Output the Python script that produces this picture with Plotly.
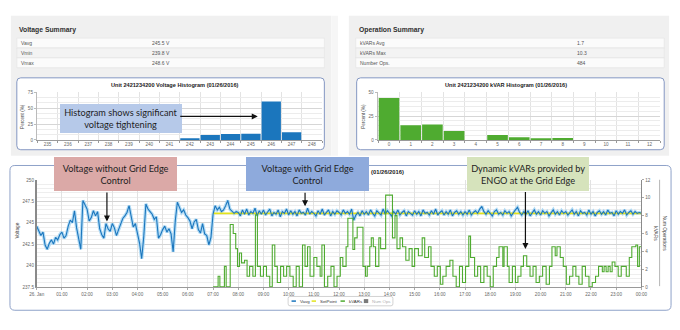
import pandas as pd
import plotly.graph_objects as go

W, H = 680, 330


def fx(x):
    return x / W


def fy(y):
    return 1 - y / H


# ---------------- summary tables ----------------
voltage_summary_labels = ["Vavg", "Vmin", "Vmax"]
voltage_summary_values = ["245.5 V", "239.8 V", "248.6 V"]
operation_summary_labels = ["kVARs Avg", "kVARs Max", "Number Ops."]
operation_summary_values = ["1.7", "10.3", "484"]

# ---------------- histograms ----------------
voltage_bins = [235, 236, 237, 238, 239, 240, 241, 242, 243, 244, 245, 246, 247, 248]
voltage_percent = [0, 0, 0, 0, 0, 0, 0, 2.1, 7.8, 9.3, 9.8, 60.6, 11.9, 0]
kvar_bins = [0, 1, 2, 3, 4, 5, 6, 7, 8, 9, 10, 11, 12]
kvar_percent = [44.1, 15.5, 16.2, 9.3, 0, 5.2, 2.8, 1.0, 2.1, 0, 0, 0, 0]

# ---------------- daily time series (26 Jan 2016) ----------------
time_tick_labels = ["26. Jan", "01:00", "02:00", "03:00", "04:00", "05:00", "06:00",
                    "07:00", "08:00", "09:00", "10:00", "11:00", "12:00", "13:00",
                    "14:00", "15:00", "16:00", "17:00", "18:00", "19:00", "20:00",
                    "21:00", "22:00", "23:00", "00:00"]

# Vavg, 5-minute samples from 00:00 to 24:00
vavg = [
    244.6, 244.0, 243.5, 243.9, 242.4, 241.9, 242.6, 243.0, 242.5, 243.3, 243.0, 243.6,
    243.9, 243.2, 243.5, 244.6, 245.3, 245.0, 246.4, 244.4, 243.0, 241.9, 247.6, 247.1,
    246.6, 245.2, 245.6, 246.4, 245.8, 246.3, 244.3, 243.6, 243.2, 244.9, 244.3, 244.0,
    244.9, 244.4, 243.5, 244.2, 244.8, 245.5, 245.8, 246.2, 247.0, 245.6, 244.5, 244.9,
    243.8, 242.6, 240.8, 243.4, 247.2, 246.6, 246.3, 246.0, 245.4, 245.7, 243.2, 243.6,
    244.2, 244.6, 243.9, 244.3, 243.7, 241.6, 245.2, 247.4, 246.8, 246.2, 246.5, 245.9,
    245.6, 245.2, 244.3, 245.1, 245.4, 244.2, 243.8, 244.9, 243.7, 243.5, 242.4, 243.3,
    246.0, 247.0, 246.5, 246.8, 246.3, 246.5, 247.0, 247.6, 246.6, 246.4, 246.1, 246.3,
    246.2, 245.8, 246.5, 246.0, 246.6, 245.9, 246.3, 246.1, 246.7, 245.8, 246.4, 246.0,
    246.5, 245.9, 246.3, 246.6, 245.8, 246.2, 246.0, 246.5, 245.7, 246.3, 246.1, 246.6,
    245.9, 246.4, 246.0, 246.3, 245.8, 246.5, 246.1, 246.2, 245.9, 246.7, 246.0, 246.3,
    246.1, 245.8, 246.4, 246.0, 246.6, 245.9, 246.2, 246.5, 245.8, 246.3, 246.0, 246.4,
    246.2, 245.9, 246.5, 246.1, 246.3, 246.0, 246.6, 245.3, 245.9, 246.2, 245.8, 246.4,
    246.0, 246.3, 245.9, 246.5, 246.1, 245.8, 246.4, 246.2, 245.9, 246.6, 246.0, 246.4,
    246.1, 245.8, 246.3, 246.0, 246.5, 245.9, 246.2, 246.4, 245.8, 246.3, 246.1, 245.9,
    246.4, 246.0, 246.3, 245.8, 246.5, 246.1, 246.2, 245.9, 246.4, 246.0, 246.6, 245.9,
    246.2, 246.4, 245.9, 246.3, 246.0, 246.5, 245.8, 246.2, 246.4, 246.0, 246.3, 245.9,
    246.3, 246.0, 246.5, 245.9, 246.2, 246.4, 246.1, 246.6, 246.9, 246.3, 246.0, 246.4,
    246.1, 245.8, 246.3, 246.5, 246.0, 246.2, 245.9, 246.4, 246.1, 246.3, 245.8, 246.2,
    246.5, 246.8, 246.2, 245.9, 246.3, 246.0, 246.4, 245.8, 246.2, 246.5, 246.0, 246.3,
    245.9, 246.4, 246.1, 246.3, 245.8, 246.2, 246.5, 246.0, 246.3, 245.9, 246.4, 246.1,
    246.3, 245.9, 246.2, 246.5, 246.0, 246.3, 245.8, 246.4, 246.1, 246.2, 245.9, 246.5,
    246.0, 246.3, 245.8, 246.2, 246.4, 246.0, 246.3, 245.9, 246.5, 246.1, 246.2, 245.8,
    246.4, 246.0, 246.3, 246.1, 246.5, 245.9, 246.2, 246.4, 246.0, 246.3, 246.1, 246.2,
    246.1,
]

setpoint_hours = [7.0, 24.0]
setpoint_values = [246.1, 246.1]

# kVAR output as a step series: hour of change -> new level
kvar_hours = [
    7.00, 7.20, 7.27, 7.45, 7.52, 7.68, 7.80, 7.90, 7.97, 8.05,
    8.13, 8.25, 8.35, 8.45, 8.58, 8.68, 8.76, 8.88, 9.00, 9.12,
    9.25, 9.35, 9.45, 9.55, 9.68, 9.80, 9.92, 10.05, 10.18, 10.30,
    10.42, 10.55, 10.65, 10.75, 10.85, 11.00, 11.12, 11.25, 11.32, 11.42,
    11.55, 11.68, 11.80, 11.92, 12.05, 12.15, 12.28, 12.35, 12.55, 12.62,
    12.72, 12.95, 13.05, 13.12, 13.22, 13.28, 13.36, 13.45, 13.58, 13.65,
    13.85, 14.12, 14.22, 14.30, 14.42, 14.52, 14.65, 14.78, 14.90, 15.00,
    15.15, 15.30, 15.40, 15.55, 15.65, 15.78, 15.90, 16.02, 16.12, 16.25,
    16.40, 16.52, 16.65, 16.78, 16.90, 17.02, 17.15, 17.22, 17.38, 17.50,
    17.62, 17.75, 17.88, 18.00, 18.12, 18.25, 18.35, 18.50, 18.55, 18.68,
    18.75, 18.88, 19.00, 19.10, 19.22, 19.32, 19.45, 19.58, 19.70, 19.82,
    19.95, 20.08, 20.22, 20.35, 20.45, 20.58, 20.65, 20.78, 20.90, 21.02,
    21.15, 21.28, 21.40, 21.52, 21.65, 21.78, 21.92, 22.05, 22.18, 22.30,
    22.45, 22.52, 22.60, 22.68, 22.76, 22.84, 22.95, 23.08, 23.20, 23.40,
    23.52, 23.62, 23.78, 23.85, 23.92, 24.00,
]
kvar_values = [
    0, 1.2, 0, 2.3, 0, 7.0, 6.0, 4.3, 2.3, 3.8,
    2.7, 3.0, 1.2, 2.3, 1.2, 8.1, 2.3, 1.2, 2.3, 1.2,
    0, 4.7, 2.3, 0.5, 2.3, 1.2, 2.3, 1.2, 0, 2.3,
    0, 4.7, 2.3, 4.5, 1.2, 3.3, 2.3, 1.2, 4.7, 0,
    1.2, 2.3, 0, 1.2, 3.3, 2.3, 4.5, 7.7, 4.2, 5.5,
    6.7, 2.3, 1.2, 2.3, 4.5, 5.5, 4.5, 2.3, 5.5, 4.3,
    10.3, 5.5, 8.0, 4.3, 5.5, 4.5, 3.0, 4.3, 2.3, 4.3,
    3.5, 5.5, 3.3, 4.5, 2.3, 1.2, 2.3, 0.3, 1.2, 2.3,
    3.0, 1.2, 0, 2.3, 0.5, 2.3, 5.7, 3.3, 1.2, 2.3,
    0.5, 2.3, 1.2, 0, 2.3, 3.3, 4.5, 2.3, 4.5, 2.3,
    0.5, 2.3, 0.5, 1.2, 2.3, 3.5, 2.3, 1.2, 2.3, 0.5,
    1.2, 2.3, 0.3, 2.3, 4.5, 3.5, 4.5, 3.3, 2.3, 0.3,
    1.2, 2.3, 1.2, 0.3, 2.3, 1.2, 0, 0.5, 1.2, 2.3,
    1.7, 2.3, 1.7, 2.3, 1.7, 2.8, 2.3, 1.2, 2.3, 1.2,
    3.3, 4.5, 4.7, 2.3, 4.5, 4.5,
]

day0 = pd.Timestamp("2016-01-26 00:00")
vavg_time = pd.date_range(day0, periods=len(vavg), freq="5min")
setpoint_time = day0 + pd.to_timedelta(setpoint_hours, unit="h")
kvar_time = day0 + pd.to_timedelta(kvar_hours, unit="h")
hour_ticks = pd.date_range(day0, periods=len(time_tick_labels), freq="h")

# ---------------- styling ----------------
BASE = "Liberation Sans, Arial, sans-serif"
CALLOUT = "Lato, Open Sans, sans-serif"
tickfont = dict(family=BASE, size=4.6, color="#666666")
V_BLUE = "#1b76bd"
V_HAZE = "#b3dbf4"
K_GREEN = "#4fab30"
SP_YELLOW = "#e2e31c"

fig = go.Figure()

# histograms
fig.add_trace(go.Bar(x=voltage_bins, y=voltage_percent, marker=dict(color=V_BLUE, line=dict(width=0)),
                     width=0.95, xaxis="x", yaxis="y", showlegend=False, name="Voltage"))
fig.add_trace(go.Bar(x=kvar_bins, y=kvar_percent, marker=dict(color=K_GREEN, line=dict(width=0)),
                     width=0.95, xaxis="x2", yaxis="y2", showlegend=False, name="kVAR"))

# time series
fig.add_trace(go.Scatter(x=vavg_time, y=vavg, mode="lines", line=dict(color=V_HAZE, width=3.4),
                         xaxis="x3", yaxis="y3", showlegend=False, hoverinfo="skip"))
fig.add_trace(go.Scatter(x=setpoint_time, y=setpoint_values, mode="lines", name="SetPoint",
                         line=dict(color=SP_YELLOW, width=1.6), xaxis="x3", yaxis="y3", showlegend=False))
fig.add_trace(go.Scatter(x=vavg_time, y=vavg, mode="lines", name="Vavg",
                         line=dict(color=V_BLUE, width=1.1), xaxis="x3", yaxis="y3", showlegend=False))
fig.add_trace(go.Scatter(x=kvar_time, y=kvar_values, mode="lines", name="kVARs",
                         line=dict(color=K_GREEN, width=1.1, shape="hv"),
                         xaxis="x3", yaxis="y4", showlegend=False))

common_axis = dict(zeroline=False, fixedrange=True, tickfont=tickfont)

layout_axes = dict(
    xaxis=dict(domain=[fx(30), fx(320.7)], anchor="y", range=[234.5, 248.5],
               tickmode="array", tickvals=voltage_bins, ticktext=[str(b) for b in voltage_bins],
               showgrid=False, ticks="", showline=True, linecolor="#9a9a9a", linewidth=1,
               minor=dict(tickmode="array", tickvals=[b - 0.5 for b in voltage_bins] + [voltage_bins[-1] + 0.5],
                          showgrid=True, gridcolor="#e3e3e3", ticks="outside", ticklen=2.5,
                          tickcolor="#999999"),
               **common_axis),
    yaxis=dict(domain=[fy(140), fy(91.7)], anchor="x", range=[0, 75], tickvals=[0, 25, 50, 75],
               showgrid=True, gridcolor="#d6d6d6", showline=True, linecolor="#bbbbbb",
               ticks="outside", ticklen=2.5, tickcolor="#bbbbbb",
               minor=dict(dtick=25 / 3, showgrid=True, gridcolor="#ececec"),
               **common_axis),
    xaxis2=dict(domain=[fx(377.9), fx(666.1)], anchor="y2", range=[-0.5, 12.5],
                tickmode="array", tickvals=kvar_bins, ticktext=[str(b) for b in kvar_bins],
                showgrid=False, ticks="", showline=True, linecolor="#9a9a9a", linewidth=1,
                minor=dict(tickmode="array", tickvals=[b - 0.5 for b in kvar_bins] + [kvar_bins[-1] + 0.5],
                           showgrid=True, gridcolor="#e3e3e3", ticks="outside", ticklen=2.5,
                           tickcolor="#999999"),
                **common_axis),
    yaxis2=dict(domain=[fy(140), fy(91.7)], anchor="x2", range=[0, 50], tickvals=[0, 25, 50],
                showgrid=True, gridcolor="#d6d6d6", showline=True, linecolor="#bbbbbb",
                ticks="outside", ticklen=2.5, tickcolor="#bbbbbb",
                minor=dict(dtick=5, showgrid=True, gridcolor="#ececec"),
                **common_axis),
    xaxis3=dict(type="date", domain=[fx(29.3), fx(646.7)], anchor="y3",
                range=[day0, day0 + pd.Timedelta(hours=24)],
                tickmode="array", tickvals=hour_ticks, ticktext=time_tick_labels,
                showgrid=True, gridcolor="#e2e2e2", showline=True, linecolor="#9a9a9a",
                ticks="outside", ticklen=2.5, tickcolor="#aaaaaa",
                **common_axis),
    yaxis3=dict(domain=[fy(289.3), fy(180.7)], anchor="x3", range=[237.5, 250],
                tick0=237.5, dtick=2.5, showgrid=True, gridcolor="#d4d4d4",
                minor=dict(dtick=0.5, showgrid=True, gridcolor="#eeeeee"),
                showline=True, linecolor="#8a8a8a", linewidth=1.6,
                **common_axis),
    yaxis4=dict(overlaying="y3", anchor="x3", side="right", range=[0, 12], dtick=2,
                showgrid=False, showline=True, linecolor="#8a8a8a", linewidth=1,
                ticks="outside", ticklen=2, tickcolor="#aaaaaa",
                **common_axis),
)


def rounded(x0, y0, x1, y1, r):
    return (f"M {fx(x0 + r)},{fy(y0)} L {fx(x1 - r)},{fy(y0)} "
            f"Q {fx(x1)},{fy(y0)} {fx(x1)},{fy(y0 + r)} L {fx(x1)},{fy(y1 - r)} "
            f"Q {fx(x1)},{fy(y1)} {fx(x1 - r)},{fy(y1)} L {fx(x0 + r)},{fy(y1)} "
            f"Q {fx(x0)},{fy(y1)} {fx(x0)},{fy(y1 - r)} L {fx(x0)},{fy(y0 + r)} "
            f"Q {fx(x0)},{fy(y0)} {fx(x0 + r)},{fy(y0)} Z")


shapes = []
# dashboard panels
shapes.append(dict(type="rect", xref="paper", yref="paper", x0=fx(3), x1=fx(330), y0=fy(156), y1=fy(14),
                   fillcolor="#f0f0f0", line=dict(width=0), layer="below"))
shapes.append(dict(type="rect", xref="paper", yref="paper", x0=fx(330), x1=fx(337), y0=fy(156), y1=fy(14),
                   fillcolor="#f6f6f6", line=dict(width=0), layer="below"))
shapes.append(dict(type="rect", xref="paper", yref="paper", x0=fx(348), x1=fx(675), y0=fy(156), y1=fy(14),
                   fillcolor="#f0f0f0", line=dict(width=0), layer="below"))

# summary table rows
row_fills = ["#fbfbfb", "#f3f3f3", "#fbfbfb"]
for left, right in [(9, 323), (355, 670)]:
    for i, fill in enumerate(row_fills):
        top = 36.7 + i * 10
        shapes.append(dict(type="rect", xref="paper", yref="paper", x0=fx(left), x1=fx(right),
                           y0=fy(top + 10), y1=fy(top), fillcolor=fill,
                           line=dict(color="#e2e2e2", width=0.6), layer="below"))

# histogram frames and the lower chart frame
for x0, y0, x1, y1 in [(9, 77, 323, 150), (356, 77, 670, 150)]:
    shapes.append(dict(type="path", xref="paper", yref="paper", path=rounded(x0, y0, x1, y1, 4),
                       fillcolor="white", line=dict(color="#8497c2", width=1), layer="below"))
shapes.append(dict(type="path", xref="paper", yref="paper", path=rounded(2, 166, 677, 313, 5),
                   fillcolor="white", line=dict(color="#8fa2c9", width=1), layer="below"))

# operations axis line on the far right
shapes.append(dict(type="line", xref="paper", yref="paper", x0=fx(665.3), x1=fx(665.3),
                   y0=fy(288.5), y1=fy(180.5), line=dict(color="#b5b5b5", width=1)))

# legend box
shapes.append(dict(type="path", xref="paper", yref="paper", path=rounded(286, 299, 393, 308.5, 2),
                   fillcolor="white", line=dict(color="#c8c8c8", width=0.8)))
legend_items = [("Vavg", V_BLUE, 289.5, 296.3, "#333333", "line"),
                ("SetPoint", SP_YELLOW, 310.0, 316.8, "#333333", "line"),
                ("kVARs", K_GREEN, 339.5, 346.3, "#333333", "line"),
                ("Num Ops", "#7a7a7a", 363.3, 369.6, "#b0b0b0", "box")]
annotations = []
for name, color, sx, tx, tcolor, kind in legend_items:
    if kind == "line":
        shapes.append(dict(type="line", xref="paper", yref="paper", x0=fx(sx), x1=fx(sx + 4.5),
                           y0=fy(303.7), y1=fy(303.7), line=dict(color=color, width=1.5)))
    else:
        shapes.append(dict(type="rect", xref="paper", yref="paper", x0=fx(sx), x1=fx(sx + 4.5),
                           y0=fy(305.7), y1=fy(301.7), fillcolor=color, line=dict(width=0)))
    annotations.append(dict(x=fx(tx), y=fy(303.7), xref="paper", yref="paper", text=name,
                            showarrow=False, xanchor="left", yanchor="middle",
                            font=dict(family=BASE, size=4.4, color=tcolor)))


def label(x, y, text, size=5, color="#555555", xanchor="left", angle=0, bold=False):
    annotations.append(dict(x=fx(x), y=fy(y), xref="paper", yref="paper",
                            text=f"<b>{text}</b>" if bold else text, showarrow=False,
                            xanchor=xanchor, yanchor="middle", textangle=angle,
                            font=dict(family=BASE, size=size, color=color)))


# summary tables
label(9, 28.8, "Voltage Summary", size=6.8, color="#2f2f2f", bold=True)
label(356, 28.8, "Operation Summary", size=6.8, color="#2f2f2f", bold=True)
for i, (name, value) in enumerate(zip(voltage_summary_labels, voltage_summary_values)):
    label(11.5, 41.8 + i * 10, name)
    label(145, 41.8 + i * 10, value)
for i, (name, value) in enumerate(zip(operation_summary_labels, operation_summary_values)):
    label(357.5, 41.8 + i * 10, name)
    label(579, 41.8 + i * 10, value)

# chart titles and axis titles
label(170, 84.5, "Unit 2421234200 Voltage Histogram (01/26/2016)", size=5.6, color="#222222",
      xanchor="center", bold=True)
label(508.5, 84.5, "Unit 2421234200 kVAR Histogram (01/26/2016)", size=5.6, color="#222222",
      xanchor="center", bold=True)
label(15, 116, "Percent (%)", size=4.6, color="#444444", xanchor="center", angle=-90)
label(363, 116, "Percent (%)", size=4.6, color="#444444", xanchor="center", angle=-90)
# the lower chart's title shows only its date to the right of the call-out box
label(368.5, 172.7, "(01/26/2016)", size=5.8, color="#222222", bold=True)
label(9.3, 232, "Voltage", size=4.8, color="#444444", xanchor="center", angle=-90)
label(660.7, 235, "kVARs", size=4.8, color="#444444", xanchor="center", angle=90)
label(670.5, 235, "Num Operations", size=4.8, color="#444444", xanchor="center", angle=90)

# call-out boxes
callouts = [
    ("Histogram shows significant<br>voltage tightening", "#b6c9e9", 54.3, 103.3, 176, 132.7),
    ("Voltage without Grid Edge<br>Control", "#dba9a7", 47.7, 158, 171, 192.3),
    ("Voltage with Grid Edge<br>Control", "#8eaadc", 244, 158, 367.3, 192.3),
    ("Dynamic kVARs provided by<br>ENGO at the Grid Edge", "#d6e3bc", 469.3, 158, 591.7, 192.3),
]
for text, bg, x0, y0, x1, y1 in callouts:
    annotations.append(dict(x=fx((x0 + x1) / 2), y=fy((y0 + y1) / 2), xref="paper", yref="paper",
                            text=text, showarrow=False, xanchor="center", yanchor="middle",
                            width=x1 - x0, height=y1 - y0, bgcolor=bg, borderpad=0, borderwidth=0,
                            align="center",
                            font=dict(family=CALLOUT, size=9.2, color="#1e1e1e")))

# arrows: (tail x, tail y, head x, head y)
arrows = [(176, 116.2, 255, 116.2), (101, 192.3, 101, 223), (303.3, 192.3, 303.3, 207.5),
          (528.3, 192.3, 528.3, 250.7)]
for tx0, ty0, hx, hy in arrows:
    annotations.append(dict(x=fx(hx), y=fy(hy), xref="paper", yref="paper", text="",
                            showarrow=True, ax=tx0 - hx, ay=ty0 - hy, axref="pixel", ayref="pixel",
                            arrowhead=2, arrowsize=1, arrowwidth=1.2, arrowcolor="#111111",
                            standoff=0, startstandoff=0))

fig.update_layout(
    width=W, height=H, margin=dict(l=0, r=0, t=0, b=0),
    paper_bgcolor="white", plot_bgcolor="rgba(0,0,0,0)",
    showlegend=False, bargap=0.05,
    shapes=shapes, annotations=annotations,
    font=dict(family=BASE),
    **layout_axes,
)

fig.write_html("out.html", config={"displayModeBar": False})
